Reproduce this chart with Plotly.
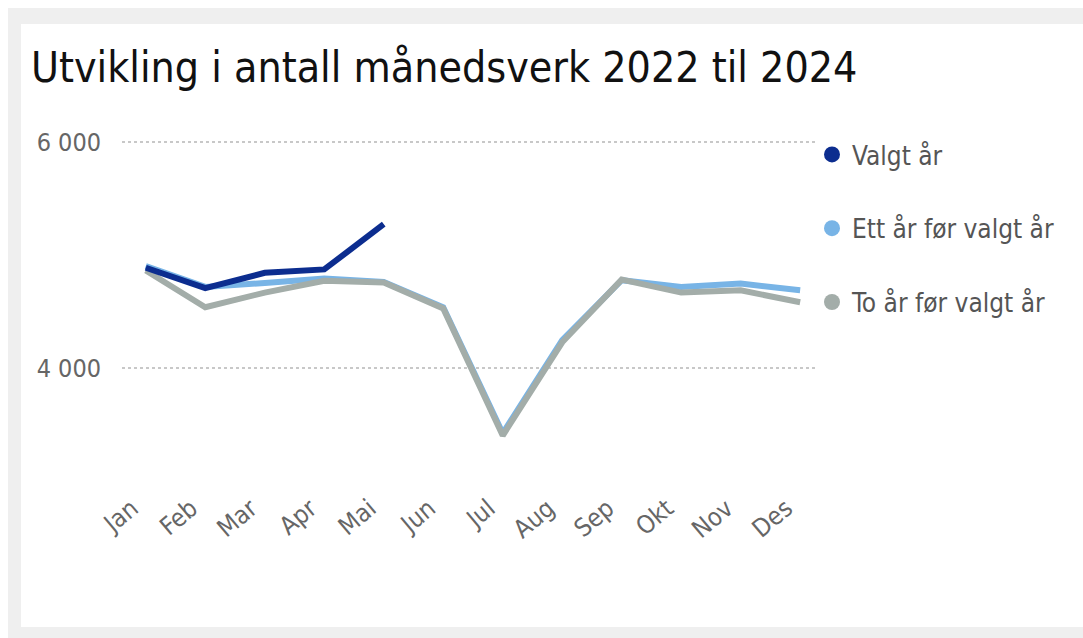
import plotly.graph_objects as go

months = ["Jan", "Feb", "Mar", "Apr", "Mai", "Jun", "Jul", "Aug", "Sep", "Okt", "Nov", "Des"]
valgt_aar = [4890, 4710, 4845, 4875, 5275]
ett_aar_for = [4905, 4720, 4755, 4795, 4765, 4540, 3425, 4250, 4780, 4720, 4750, 4690]
to_aar_for = [4865, 4540, 4670, 4775, 4760, 4530, 3405, 4230, 4785, 4670, 4690, 4585]

series_names = ["Valgt år", "Ett år før valgt år", "To år før valgt år"]
colors = ["#0C2D8F", "#78B4E6", "#A3ADA9"]

FONT = "DejaVu Sans Condensed, DejaVu Sans, sans-serif"
W, H = 1083, 638
L, R, T, B = 122, 818, 131, 470

def px_x(p):
    return (p - L) / (R - L)

def px_y(p):
    return (B - p) / (B - T)

fig = go.Figure()
fig.add_trace(go.Scatter(x=months, y=ett_aar_for, mode="lines", line=dict(color=colors[1], width=6),
                         showlegend=False, name=series_names[1]))
fig.add_trace(go.Scatter(x=months, y=to_aar_for, mode="lines", line=dict(color=colors[2], width=6),
                         showlegend=False, name=series_names[2]))
fig.add_trace(go.Scatter(x=months[:len(valgt_aar)], y=valgt_aar, mode="lines", line=dict(color=colors[0], width=6),
                         showlegend=False, name=series_names[0]))

for i, nm in enumerate(series_names):
    fig.add_trace(go.Scatter(x=[None], y=[None], mode="markers", name=nm,
                             marker=dict(color=colors[i], size=17, symbol="circle"),
                             legendgroup=f"g{i}", showlegend=True))

fig.update_layout(
    width=W, height=H,
    margin=dict(l=L, r=W - R, t=T, b=H - B, autoexpand=False),
    paper_bgcolor="white",
    plot_bgcolor="rgba(0,0,0,0)",
    title=dict(text="Utvikling i antall månedsverk 2022 til 2024", xref="container", yref="container",
               x=31 / W, xanchor="left", y=1 - 67 / H, yanchor="middle",
               font=dict(family=FONT, size=42.5, color="#111111")),
    showlegend=True,
    legend=dict(x=px_x(812), xanchor="left", y=px_y(131), yanchor="top",
                font=dict(family=FONT, size=26, color="#555555"),
                tracegroupgap=37, itemwidth=30, bgcolor="rgba(0,0,0,0)"),
    xaxis=dict(type="category", range=[-0.4, 11.3], showgrid=False, zeroline=False, showline=False,
               tickangle=-40, tickfont=dict(family=FONT, size=25, color="#666666"),
               ticks="", ticklabelstandoff=18, ticklabelshift=-14),
    yaxis=dict(range=[3100, 6100], tickvals=[4000, 6000], ticktext=["4 000", "6 000"],
               showgrid=True, gridcolor="#C8C8C8", gridwidth=2, griddash="dot", zeroline=False,
               showline=False, ticks="", tickfont=dict(family=FONT, size=25, color="#666666"),
               ticklabelstandoff=20),
    shapes=[
        dict(type="rect", xref="paper", yref="paper", layer="below",
             x0=px_x(8), x1=px_x(1090), y0=px_y(646), y1=px_y(8),
             fillcolor="#EFEFEF", line=dict(width=0)),
        dict(type="rect", xref="paper", yref="paper", layer="below",
             x0=px_x(21), x1=px_x(1090), y0=px_y(627), y1=px_y(24),
             fillcolor="#FFFFFF", line=dict(width=0)),
    ],
)

fig.write_html("out.html", config={"displayModeBar": False},
               post_script="document.body.style.margin='0';")
